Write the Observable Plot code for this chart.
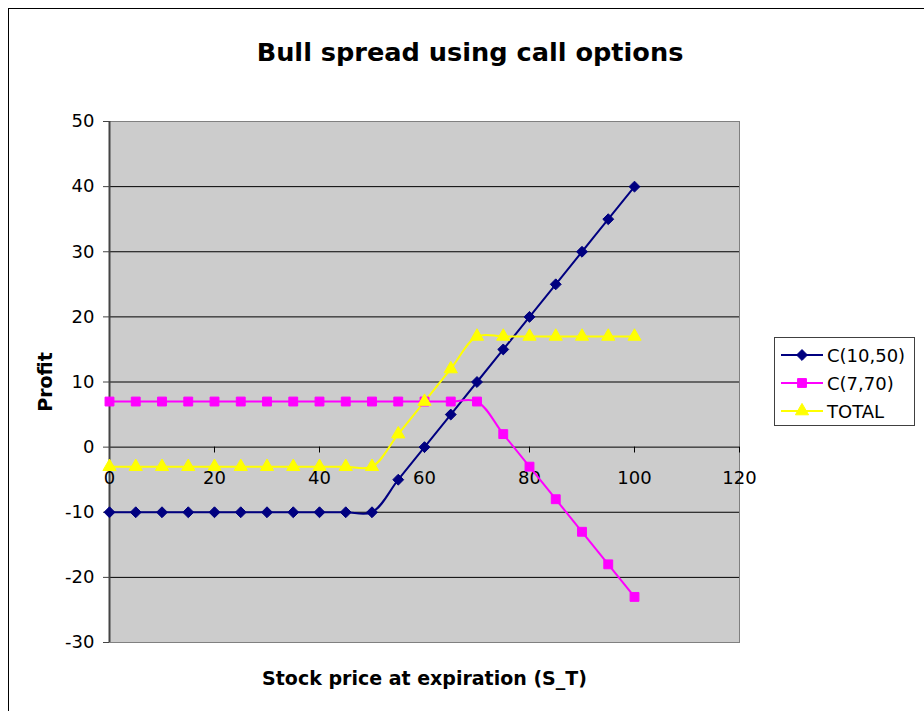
<!DOCTYPE html>
<html>
<head>
<meta charset="utf-8">
<script src="https://cdn.jsdelivr.net/npm/d3@7"></script>
<script src="https://cdn.jsdelivr.net/npm/@observablehq/plot@0.6"></script>
<style>
  html, body { margin: 0; padding: 0; background: #fff; }
  #wrap { position: relative; width: 924px; height: 711px; overflow: hidden; font-family: "DejaVu Sans", Verdana, sans-serif; }
  #border { position: absolute; left: 8px; top: 8px; width: 940px; height: 740px; border: 1px solid #000; box-sizing: border-box; }
  #title { position: absolute; left: 0; top: 37px; width: 940px; text-align: center; font-weight: bold; font-size: 25.6px; color: #000; }
  #chart { position: absolute; left: 0; top: 0; }
  #legend { position: absolute; left: 774px; top: 337px; width: 141px; height: 89px; border: 1px solid #404040; background: #fff; box-sizing: border-box; padding-top: 3px; }
  .row { height: 28px; display: flex; align-items: center; font-size: 18px; }
  .row svg { margin-left: 6px; margin-right: 4px; }
</style>
</head>
<body>
<div id="wrap">
  <div id="border"></div>
  <div id="chart"></div>
  <div id="title">Bull spread using call options</div>
  <div id="legend"></div>
</div>
<script>
const stockPrice = [0,5,10,15,20,25,30,35,40,45,50,55,60,65,70,75,80,85,90,95,100];
const callLong = [-10,-10,-10,-10,-10,-10,-10,-10,-10,-10,-10,-5,0,5,10,15,20,25,30,35,40];
const callShort = [7,7,7,7,7,7,7,7,7,7,7,7,7,7,7,2,-3,-8,-13,-18,-23];
const total = [-3,-3,-3,-3,-3,-3,-3,-3,-3,-3,-3,2,7,12,17,17,17,17,17,17,17];
const seriesNames = ["C(10,50)", "C(7,70)", "TOTAL"];
const seriesColors = ["#000080", "#FF00FF", "#FFFF00"];
const seriesSymbols = ["diamond2", "square", "triangle"];
const seriesValues = [callLong, callShort, total];
const xTicks = [0,20,40,60,80,100,120];
const yTicks = [-30,-20,-10,0,10,20,30,40,50];
const gridY = [-20,-10,10,20,30,40];

const data = [];
seriesNames.forEach((name, i) => {
  stockPrice.forEach((x, j) => data.push({series: name, x, y: seriesValues[i][j]}));
});

const symbolSizes = {"diamond2": 4.9, "square": 5, "triangle": 4.9};

const marks = [
  Plot.frame({fill: "#CCCCCC", stroke: "#808080"}),
  Plot.ruleY(gridY, {stroke: "#000", strokeWidth: 1}),
  Plot.ruleY([0], {stroke: "#000", strokeWidth: 1}),
  Plot.ruleX(xTicks, {x: d => d, y1: 0, y2: -0.9, stroke: "#000"}),
  Plot.ruleX([0], {stroke: "#444", strokeWidth: 2}),
  Plot.axisY({ticks: yTicks, tickSize: 6, tickPadding: 9, label: null, stroke: "#444", tickFormat: d => String(d)}),
  Plot.text(xTicks, {x: d => d, y: 0, text: d => String(d), dy: 31, lineAnchor: "middle", fontSize: 18, fill: "#000"}),
];
seriesNames.forEach((name, i) => {
  const rows = data.filter(d => d.series === name);
  marks.push(Plot.line(rows, {x: "x", y: "y", stroke: seriesColors[i], strokeWidth: 2, curve: "catmull-rom"}));
});
seriesNames.forEach((name, i) => {
  const rows = data.filter(d => d.series === name);
  marks.push(Plot.dot(rows, {x: "x", y: "y", symbol: () => seriesSymbols[i], r: symbolSizes[seriesSymbols[i]], fill: seriesColors[i], stroke: seriesColors[i], strokeWidth: 1}));
});
marks.push(Plot.text(["Stock price at expiration (S_T)"], {frameAnchor: "bottom", dy: 36, text: d => d, fontSize: 19, fontWeight: "bold", fill: "#000", lineAnchor: "middle"}));
marks.push(Plot.text(["Profit"], {frameAnchor: "left", dx: -64, rotate: -90, textAnchor: "middle", text: d => d, fontSize: 19, fontWeight: "bold", fill: "#000"}));

const chart = Plot.plot({
  width: 924,
  height: 711,
  marginTop: 121,
  marginBottom: 69,
  marginLeft: 109,
  marginRight: 185,
  style: {background: "transparent", fontFamily: "DejaVu Sans", fontSize: "18px", color: "#000"},
  x: {domain: [0, 120], axis: null},
  y: {domain: [-30, 50], axis: null},
  symbol: {type: "identity"},
  marks
});
document.getElementById("chart").appendChild(chart);

// legend
const legend = document.getElementById("legend");
seriesNames.forEach((name, i) => {
  const row = document.createElement("div");
  row.className = "row";
  const sym = d3.symbol(i === 0 ? d3.symbolDiamond2 : i === 1 ? d3.symbolSquare : d3.symbolTriangle, i === 0 ? 75 : i === 1 ? 78 : 75)();
  row.innerHTML = `<svg width="42" height="20"><line x1="0" x2="42" y1="10" y2="10" stroke="${seriesColors[i]}" stroke-width="2"/><path transform="translate(21,10)" d="${sym}" fill="${seriesColors[i]}" stroke="${seriesColors[i]}"/></svg><span>${name}</span>`;
  legend.appendChild(row);
});
</script>
</body>
</html>
